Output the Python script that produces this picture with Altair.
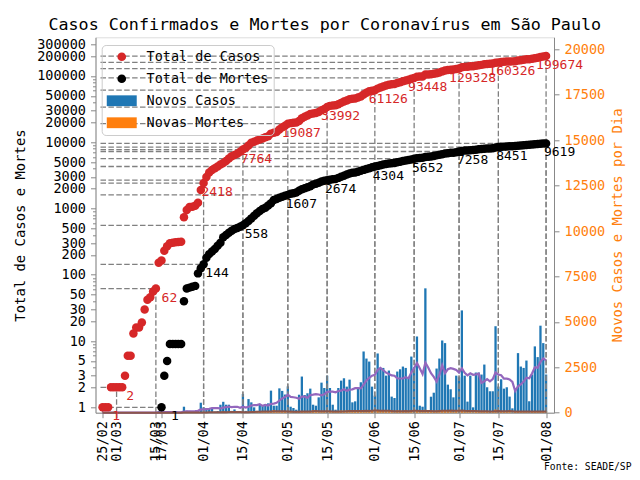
import altair as alt
import pandas as pd

# ---------------- data ----------------
dates = pd.date_range("2020-02-25", "2020-08-01", freq="D").strftime("%Y-%m-%dT00:00:00").tolist()

cases_total = [
    1, 1, 1, 2, 2, 2, 2, 2, 3, 6,
    6, 13, 16, 16, 19, 30, 42, 46, 56, 62,
    152, 164, 230, 270, 300, 305, 310, 312, 315, 740,
    950, 1050, 1060, 1100, 1220, 1900, 2418, 3000, 3500, 3800,
    4050, 4300, 4620, 4870, 5200, 5700, 6150, 6400, 6700, 7200,
    7764, 8200, 8900, 9800, 10200, 10600, 11000, 11400, 11900, 12300,
    13500, 13900, 14300, 15600, 16800, 17800, 19087, 19440, 19720, 19900,
    20970, 23120, 24170, 25320, 26750, 27220, 27640, 28550, 30330, 31800,
    33992, 35410, 35870, 36040, 37460, 39300, 41280, 42780, 44680, 45270,
    45920, 47340, 49090, 52600, 55710, 58650, 60150, 61126, 64480, 67010,
    69550, 71650, 74030, 74940, 75770, 78100, 80560, 83170, 85710, 87710,
    90890, 93448, 97790, 98190, 98530, 105610, 105660, 106570, 107710, 110230,
    113310, 117420, 121380, 122980, 124320, 125190, 127300, 129328, 135200, 137320,
    137960, 140080, 140390, 142690, 144990, 147180, 149940, 151400, 152630, 153860,
    158820, 160326, 162220, 163580, 165020, 165930, 166180, 167440, 170810, 173420,
    175960, 178910, 179560, 181720, 185480, 188630, 193560, 197500, 199674,
]

deaths_total = [0] * 21 + [
    1, 3, 5, 9, 9, 9, 9, 9, 40, 62,
    64, 66, 68, 105, 125, 144, 180, 205, 225, 245,
    275, 305, 370, 400, 430, 460, 490, 510, 530, 558,
    600, 650, 710, 780, 850, 920, 980, 1030, 1110, 1200,
    1340, 1390, 1450, 1510, 1560, 1607, 1670, 1700, 1750, 1850,
    1950, 2020, 2100, 2170, 2300, 2360, 2450, 2550, 2620, 2674,
    2720, 2760, 2800, 2900, 3020, 3130, 3250, 3380, 3460, 3500,
    3600, 3710, 3830, 3960, 4060, 4190, 4304, 4400, 4500, 4620,
    4700, 4790, 4830, 4860, 4990, 5100, 5200, 5310, 5380, 5510,
    5652, 5760, 5800, 5840, 6000, 6040, 6120, 6220, 6340, 6460,
    6600, 6750, 6830, 6920, 6970, 7090, 7258, 7400, 7480, 7530,
    7600, 7630, 7720, 7820, 7920, 8000, 8050, 8080, 8150, 8320,
    8451, 8520, 8590, 8650, 8700, 8720, 8800, 8880, 8960, 9030,
    9120, 9150, 9220, 9300, 9380, 9460, 9540, 9619,
]

cases_new = [
    1, 0, 0, 1, 0, 0, 0, 0, 1, 3, 0, 7, 3, 0, 3, 11, 12, 4, 10, 6,
    90, 12, 66, 40, 30, 5, 5, 2, 3,
    330, 110, 100, 10, 40, 120, 550, 295,
    250, 260, 240, 60, 90, 440, 600, 440, 440, 100, 180, 70, 80,
    1030, 100, 750, 570, 295, 100, 440, 385, 480, 515, 1215, 385, 385, 1340, 1200, 1000, 1450,
    330, 260, 165, 990, 1990, 975, 1070, 1325, 440, 385, 845, 1655, 1360, 2040,
    1360, 440, 165, 1360, 1765, 1895, 1435, 1820, 570, 625, 1360, 1675, 3370, 2980, 2815, 1435, 940,
    3260, 2465, 2465, 2040, 2320, 885, 810, 2265, 2390, 2540, 2465, 1950, 3090, 2500,
    4195, 385, 330, 6845, 50, 880, 1100, 2430, 2980, 3975, 3830, 1545, 1290, 845, 2040, 1950,
    5630, 2040, 610, 2040, 295, 2210, 2210, 2100, 2650, 1400, 1180, 1180, 4760, 1440,
    1840, 1325, 1400, 885, 240, 1220, 3280, 2540, 2465, 2870, 630, 2100, 3650, 3060, 4790, 3830, 2100,
]

deaths_new = [0] * 21 + [
    1, 2, 2, 4, 0, 0, 0, 0, 31, 22,
    2, 2, 2, 37, 20, 19, 36, 25, 20, 20,
    30, 30, 65, 30, 30, 30, 30, 20, 20, 28,
    42, 50, 60, 70, 70, 70, 60, 50, 80, 90,
    140, 50, 60, 60, 50, 47, 63, 30, 50, 100,
    100, 70, 80, 70, 130, 60, 90, 100, 70, 54,
    46, 40, 40, 100, 120, 110, 120, 130, 80, 40,
    100, 110, 120, 130, 100, 130, 114, 96, 100, 120,
    80, 90, 40, 30, 130, 110, 100, 110, 70, 130,
    142, 108, 40, 40, 160, 40, 80, 100, 120, 120,
    140, 150, 80, 90, 50, 120, 168, 142, 80, 50,
    70, 30, 90, 100, 100, 80, 50, 30, 70, 170,
    131, 69, 70, 60, 50, 20, 80, 80, 80, 70,
    90, 30, 70, 80, 80, 80, 80, 79,
]

ann_cases_dates = ["2020-02-25", "2020-03-01", "2020-03-15", "2020-04-01", "2020-04-15", "2020-05-01",
                   "2020-05-15", "2020-06-01", "2020-06-15", "2020-07-01", "2020-07-15", "2020-08-01"]
ann_cases_values = [1, 2, 62, 2418, 7764, 19087, 33992, 61126, 93448, 129328, 160326, 199674]
ann_deaths_dates = ["2020-03-17", "2020-04-01", "2020-04-15", "2020-05-01", "2020-05-15",
                    "2020-06-01", "2020-06-15", "2020-07-01", "2020-07-15", "2020-08-01"]
ann_deaths_values = [1, 144, 558, 1607, 2674, 4304, 5652, 7258, 8451, 9619]

tick_dates = [(2, 25), (3, 1), (3, 15), (3, 17), (4, 1), (4, 15), (5, 1), (5, 15),
              (6, 1), (6, 15), (7, 1), (7, 15), (8, 1)]
left_labels = [1, 2, 3, 5, 10, 20, 30, 50, 100, 200, 300, 500, 1000, 2000, 3000, 5000,
               10000, 20000, 30000, 50000, 100000, 200000, 300000]
right_ticks = [0, 2500, 5000, 7500, 10000, 12500, 15000, 17500, 20000]
series = ["Total de Casos", "Total de Mortes", "Novos Casos", "Novas Mortes"]
series_colors = ["#d62728", "#000000", "#1f77b4", "#ff7f0e"]

# ---------------- tables ----------------
df = pd.DataFrame({
    "date": dates,
    "cases_total": cases_total,
    "deaths_total": deaths_total,
    "cases_new": cases_new,
    "deaths_new": deaths_new,
})
ann = pd.DataFrame({
    "date": [d + "T00:00:00" for d in ann_cases_dates + ann_deaths_dates],
    "value": ann_cases_values + ann_deaths_values,
    "label": [str(v) for v in ann_cases_values + ann_deaths_values],
    "kind": ["cases"] * len(ann_cases_values) + ["deaths"] * len(ann_deaths_values),
})

# ---------------- scales / axes ----------------
MONO = "DejaVu Sans Mono"
YMIN, YMAX = 0.829, 383700
RMAX = 20663
X0 = alt.DateTime(year=2020, month=2, date=24, hours=6, minutes=30)
X1 = alt.DateTime(year=2020, month=8, date=2, hours=1)
X0_EXPR = "datetime(2020, 1, 24, 6, 30)"

xscale = alt.Scale(domain=[X0, X1])
xaxis = alt.Axis(
    values=[alt.DateTime(year=2020, month=m, date=d) for m, d in tick_dates],
    format="%d/%m", labelAngle=270, labelFont=MONO, labelFontSize=13.5,
    labelOverlap=False, labelFlush=False, labelPadding=3, tickSize=5,
    grid=False, title="Fonte: SEADE/SP", titleFont=MONO, titleFontSize=9.7,
    titleFontWeight="normal", titleX=535.5, titleY=57.3, titleAlign="right",
    titleBaseline="alphabetic", titleAngle=0,
)

left_ticks = [m * 10 ** k for k in range(6) for m in range(1, 10) if m * 10 ** k <= YMAX]
is_major = f"indexof({left_labels}, datum.value) >= 0"
ylog = alt.Scale(type="log", domain=[YMIN, YMAX], nice=False)
yaxis_left = alt.Axis(
    orient="left", values=left_ticks, format="d",
    labelExpr=f"{is_major} ? datum.label : ''",
    tickSize={"condition": {"test": is_major, "value": 5}, "value": 3},
    labelFont=MONO, labelFontSize=13.5, labelOverlap=False, labelPadding=5,
    grid=False, title="Total de Casos e Mortes", titleFont=MONO, titleFontSize=13.9,
    titleFontWeight="normal", titlePadding=9,
)
ylin = alt.Scale(domain=[0, RMAX], nice=False, zero=True)
yaxis_right = alt.Axis(
    orient="right", values=right_ticks, format="d", labelColor="#ff7f0e",
    labelFont=MONO, labelFontSize=13.5, labelOverlap=False, labelPadding=5, tickSize=5,
    grid=False, title="Novos Casos e Mortes por Dia", titleColor="#ff7f0e",
    titleFont=MONO, titleFontSize=13.9, titleFontWeight="normal",
    titleAngle=270, titleBaseline="top", titlePadding=6,
)

rect_path = "M-3.46,-1.25H3.46V1.25H-3.46Z"
legend = alt.Legend(
    title=None, orient="none", legendX=6.2, legendY=7.7, padding=5,
    symbolOffset=8.3, labelOffset=18, symbolSize=75, symbolStrokeWidth=0,
    labelFont=MONO, labelFontSize=13.5, labelColor="black", rowPadding=7,
    cornerRadius=4, strokeColor="#cccccc", fillColor="rgba(255,255,255,0)",
    symbolOpacity=1,
)
color_scale = alt.Scale(domain=series, range=series_colors)
shape_scale = alt.Scale(domain=series, range=["circle", "circle", rect_path, rect_path])


def color_enc():
    return alt.Color("serie:N", scale=color_scale, legend=legend)


def shape_enc():
    return alt.Shape("serie:N", scale=shape_scale, legend=legend)


base = alt.Chart(df)
x_date = alt.X("date:T", scale=xscale, axis=xaxis)

# ---------------- right-axis group: bars ----------------
bars_cases = base.transform_calculate(serie=f"'{series[2]}'").mark_bar(size=2.3).encode(
    x=x_date, y=alt.Y("cases_new:Q", scale=ylin, axis=yaxis_right), color=color_enc())
bars_deaths = base.transform_calculate(serie=f"'{series[3]}'").mark_bar(size=2.3).encode(
    x=x_date, y=alt.Y("deaths_new:Q", scale=ylin, axis=yaxis_right), color=color_enc())
bars_grp = alt.layer(bars_cases, bars_deaths)

# ---------------- annotation rules (log scale) ----------------
# dashes start at the axes (left edge / bottom edge) so overlapping lines stay in phase
dash = dict(color="#808080", strokeDash=[5.5, 2.4], strokeWidth=1.3)
h_rules = alt.Chart(ann).transform_calculate(x0=X0_EXPR).mark_rule(**dash).encode(
    x=alt.X("x0:T", scale=xscale, axis=xaxis), x2="date:T",
    y=alt.Y("value:Q", scale=ylog, axis=None))
v_rules = alt.Chart(ann).transform_calculate(y0=str(YMIN)).mark_rule(**dash).encode(
    x=alt.X("date:T", scale=xscale, axis=xaxis),
    y=alt.Y("y0:Q", scale=ylog, axis=None), y2="value:Q")
rules_grp = alt.layer(h_rules, v_rules)

# ---------------- moving averages (right scale) ----------------
ma_cases = base.transform_window(
    ma="mean(cases_new)", frame=[-6, 0], sort=[alt.SortField("date")]
).mark_line(color="#9467bd", strokeWidth=2.2, opacity=1).encode(
    x=x_date, y=alt.Y("ma:Q", scale=ylin, axis=None))
ma_deaths = base.transform_window(
    mad="mean(deaths_new)", frame=[-6, 0], sort=[alt.SortField("date")]
).mark_line(color="#8c564b", strokeWidth=2).encode(
    x=x_date, y=alt.Y("mad:Q", scale=ylin, axis=None))
lines_grp = alt.layer(ma_cases, ma_deaths)

# ---------------- cumulative points + labels (log scale) ----------------
pt = dict(size=72, opacity=1, filled=True, strokeWidth=0, clip=True)
dots_cases = base.transform_calculate(serie=f"'{series[0]}'").mark_point(**pt).encode(
    x=x_date, y=alt.Y("cases_total:Q", scale=ylog, axis=yaxis_left),
    color=color_enc(), shape=shape_enc())
dots_deaths = base.transform_filter("datum.deaths_total > 0").transform_calculate(
    serie=f"'{series[1]}'").mark_point(**pt).encode(
    x=x_date, y=alt.Y("deaths_total:Q", scale=ylog, axis=yaxis_left),
    color=color_enc(), shape=shape_enc())
txt = dict(font=MONO, fontSize=13, align="center", baseline="top", dx=13.5, dy=3)
text_cases = alt.Chart(ann).transform_filter("datum.kind == 'cases'").mark_text(
    color="#d62728", **txt).encode(
    x=alt.X("date:T", scale=xscale, axis=xaxis),
    y=alt.Y("value:Q", scale=ylog, axis=yaxis_left), text="label:N")
text_deaths = alt.Chart(ann).transform_filter("datum.kind == 'deaths'").mark_text(
    color="#000000", **txt).encode(
    x=alt.X("date:T", scale=xscale, axis=xaxis),
    y=alt.Y("value:Q", scale=ylog, axis=yaxis_left), text="label:N")
points_grp = alt.layer(dots_cases, dots_deaths, text_cases, text_deaths)

chart = alt.layer(bars_grp, rules_grp, lines_grp, points_grp).resolve_scale(
    y="independent"
).properties(
    width=458.5, height=375.4,
    autosize=alt.AutoSizeParams(type="none"),
    padding={"left": 87.5, "top": 29.3, "right": 78, "bottom": 59.3},
    title=alt.TitleParams(
        "Casos Confirmados e Mortes por Coronavírus em São Paulo",
        font=MONO, fontSize=16.7, fontWeight="normal", anchor="middle",
        offset=4, color="black"),
).configure_view(stroke="black", strokeWidth=1).configure_axis(
    domainColor="black", tickColor="black", titleColor="black",
).configure(background="white")

chart.save("out.html", embed_options={"renderer": "svg", "actions": False})
